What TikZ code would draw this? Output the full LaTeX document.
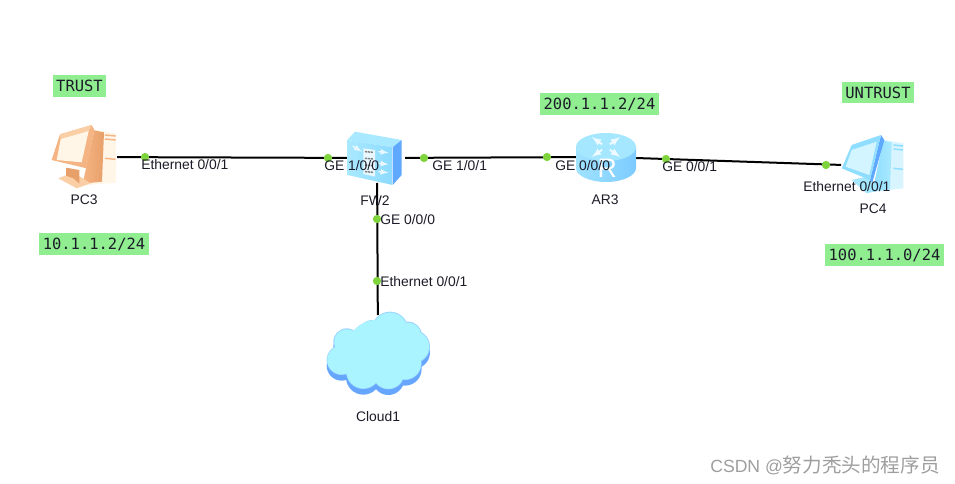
\documentclass[tikz,border=0pt]{standalone}
\usepackage{fontspec}
\setmainfont{Liberation Sans}
\setmonofont{DejaVu Sans Mono}
\newfontfamily\cjkwm{Noto Sans CJK SC}
\definecolor{tagG}{HTML}{90EE90}
\definecolor{dotG}{HTML}{7FD33C}
\definecolor{txt}{HTML}{1C1C28}
\definecolor{oA}{HTML}{FBCFA6}
\definecolor{oB}{HTML}{E8A06A}
\definecolor{oC}{HTML}{FFF6E8}
\definecolor{oD}{HTML}{F5B483}
\definecolor{bA}{HTML}{8FDDFF}
\definecolor{bB}{HTML}{5FA8FF}
\definecolor{bC}{HTML}{E4FAFF}
\definecolor{bD}{HTML}{A9E9FF}
\definecolor{bE}{HTML}{7CCBFF}
\definecolor{cS}{HTML}{66A6FF}
\definecolor{cB}{HTML}{9AD6FF}
\definecolor{cF}{HTML}{A9F4FF}
\tikzset{
  dev/.style={inner sep=0pt,outer sep=0pt,minimum width=#1},
  wire/.style={black,line width=1.5pt},
  port/.style={circle,fill=dotG,inner sep=0pt,minimum size=6.2pt},
  plabel/.style={anchor=west,inner sep=0pt,font=\fontsize{10.4}{12}\selectfont,text=txt},
  dlabel/.style={inner sep=0pt,font=\fontsize{10.4}{12}\selectfont,text=txt},
  tag/.style={fill=tagG,inner sep=0pt,font=\ttfamily\fontsize{11.6}{12}\selectfont,text=txt},
}
\begin{document}
\begin{tikzpicture}[x=0.75pt,y=-0.75pt]
\useasboundingbox (0,0) rectangle (955,484);
% device anchors
\node[dev=49.5pt,minimum height=45pt] (pc3) at (84,157) {};
\node[dev=42pt,minimum height=37.5pt] (fw2) at (377,158) {};
\node[dev=45pt,minimum height=45pt] (ar3) at (606,157) {};
\node[dev=48pt,minimum height=45pt] (pc4) at (873,166) {};
\node[dev=78pt,minimum height=55.5pt] (cloud1) at (378,352) {};
% connectors
\draw[wire] (pc3) -- (fw2);
\draw[wire] (fw2) -- (ar3);
\draw[wire] (ar3) -- (pc4);
\draw[wire] (fw2) -- (cloud1);
% PC3 icon
\begin{scope}[shift={(40,115)},x=0.25pt,y=-0.25pt]
  \fill[oC] (163,45) -- (228,55) -- (228,203) -- (140,210) -- cycle;
  \path[left color=oD,right color=oB] (163,46) -- (192,52) -- (186,200) -- (128,206) -- cycle;
  \foreach \yy in {60,72,130}{\draw[oD,line width=1.1pt] (195,\yy) -- (227,\yy+3);}
  \fill[oA] (55,190) -- (100,172) -- (152,205) -- (110,220) -- cycle;
  \fill[oB] (78,158) -- (118,165) -- (118,205) -- (100,190) -- (78,182) -- cycle;
  \fill[oD] (60,58) -- (155,30) -- (163,45) -- (140,160) -- (35,135) -- cycle;
  \fill[oA] (60,58) -- (155,30) -- (146,48) -- (62,72) -- cycle;
  \fill[oC] (62,72) -- (146,48) -- (125,142) -- (50,135) -- cycle;
\end{scope}
% FW2 icon
\begin{scope}[shift={(310,110)},x=0.25pt,y=-0.25pt]
  \fill[bD] (112,90) -- (135,65) -- (275,90) -- (248,112) -- cycle;
  \fill[bB] (248,112) -- (275,90) -- (275,195) -- (248,225) -- cycle;
  \path[left color=bD,right color=bA!85!bE] (112,90) -- (248,112) -- (248,225) -- (112,195) -- cycle;
  \fill[white!80!bA] (160,115) -- (195,120) -- (195,200) -- (160,192) -- cycle;
  \foreach \yy in {125,145,165,185}{\draw[gray,line width=1.1pt,dash pattern=on 1.6pt off 0.6pt] (165,\yy) -- (190,\yy+2);}
  \foreach \yy in {125,160,185}{\draw[white!80!bA,line width=1pt,-latex] (205,\yy) -- (235,\yy+3);}
  \draw[white!80!bA,line width=1pt,-latex] (128,108) -- (155,125);
\end{scope}
% AR3 icon
\begin{scope}[shift={(570,122)},x=0.25pt,y=-0.25pt]
  \path[left color=bD!80!bE,right color=bE] (18,75) -- (18,138) arc[start angle=180,end angle=0,x radius=90,y radius=42] -- (198,75) -- cycle;
  \fill[bD!85!bA] (108,75) ellipse[x radius=90,y radius=42];
  \foreach \a in {35,145,215,325}{
    \draw[white!85!bA,line width=1.4pt,-latex] (108,75) ++(\a:14) -- ++(\a:38);}
  \node[font=\fontsize{20}{20}\selectfont,text=white,inner sep=0pt] (rglyph) at (112,140) {R};
\end{scope}
% PC4 icon
\begin{scope}[shift={(835,125)},x=0.25pt,y=-0.25pt]
  \fill[bD!45!white] (145,45) -- (205,55) -- (205,190) -- (120,200) -- cycle;
  \path[left color=bA,right color=bD] (145,47) -- (170,52) -- (165,192) -- (112,200) -- cycle;
  \foreach \yy in {60,72,130}{\draw[bA,line width=1.1pt] (175,\yy) -- (204,\yy+3);}
  \fill[bD!80!bA] (50,165) -- (95,155) -- (140,195) -- (95,205) -- cycle;
  \fill[bB] (138,30) -- (148,45) -- (112,172) -- (105,165) -- cycle;
  \fill[bA] (50,60) -- (138,30) -- (105,165) -- (20,130) -- cycle;
  \fill[bC!70!bD] (50,75) -- (125,50) -- (103,150) -- (32,125) -- cycle;
\end{scope}
% Cloud icon
\begin{scope}[shift={(310,260)},x=0.25pt,y=-0.25pt]
  \foreach \cx/\cy/\r in {185/215/35,240/210/55,295/225/40,310/260/50,285/310/50,235/340/48,160/335/52,95/300/45,110/245/40,200/270/90}{
    \fill[cS] (\cx,\cy+17) circle[radius=\r];}
  \foreach \cx/\cy/\r in {185/215/35,240/210/55,295/225/40,310/260/50,285/310/50,235/340/48,160/335/52,95/300/45,110/245/40,200/270/90}{
    \fill[cB] (\cx,\cy) circle[radius=\r];}
  \foreach \cx/\cy/\r in {185/215/32,240/210/52,295/225/37,310/260/47,285/310/48,235/340/46,160/335/50,95/300/43,110/245/37,200/270/90}{
    \fill[cF] (\cx,\cy) circle[radius=\r];}
\end{scope}
% port dots
\node[port] (d1) at (145,157) {};
\node[port] (d2) at (328,158) {};
\node[port] (d3) at (424,158) {};
\node[port] (d4) at (547,157) {};
\node[port] (d5) at (666,159) {};
\node[port] (d6) at (826,165) {};
\node[port] (d7) at (377,219) {};
\node[port] (d8) at (377,281) {};
% port labels
\node[plabel] (l1) at (141,164.5) {Ethernet 0/0/1};
\node[plabel] (l2) at (324,165.5) {GE 1/0/0};
\node[plabel] (l3) at (432,165.5) {GE 1/0/1};
\node[plabel] (l4) at (555,165.5) {GE 0/0/0};
\node[plabel] (l5) at (662,166.5) {GE 0/0/1};
\node[plabel] (l6) at (803,186.5) {Ethernet 0/0/1};
\node[plabel] (l7) at (380,219.5) {GE 0/0/0};
\node[plabel] (l8) at (380,281.5) {Ethernet 0/0/1};
% device names
\node[dlabel] (n1) at (84,199.5) {PC3};
\node[dlabel] (n2) at (375,200.5) {FW2};
\node[dlabel] (n3) at (605,199.5) {AR3};
\node[dlabel] (n4) at (873,208.5) {PC4};
\node[dlabel] (n5) at (378,416.5) {Cloud1};
% tags
\node[tag,minimum width=39.75pt,minimum height=16.5pt] (t1) at (79.5,86) {TRUST};
\node[tag,minimum width=82.5pt,minimum height=17pt] (t2) at (94,244) {10.1.1.2/24};
\node[tag,minimum width=89.25pt,minimum height=16.5pt] (t3) at (599.5,104) {200.1.1.2/24};
\node[tag,minimum width=54pt,minimum height=16pt] (t4) at (878,92.5) {UNTRUST};
\node[tag,minimum width=89.25pt,minimum height=16.5pt] (t5) at (884.5,255) {100.1.1.0/24};
% watermark
\node[inner sep=0pt,anchor=east,text=black!38,font=\fontsize{13.2}{14}\selectfont] (wm) at (940,465) {CSDN @{\cjkwm\fontsize{14.7}{14}\selectfont 努力秃头的程序员}};
\end{tikzpicture}
\end{document}
